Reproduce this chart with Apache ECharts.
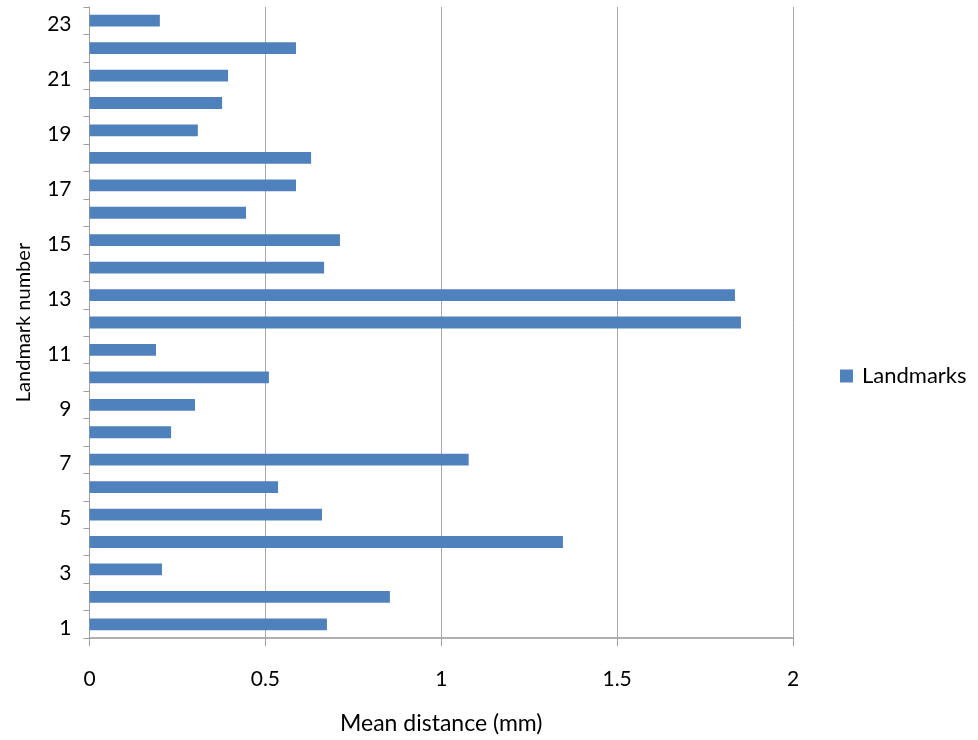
<!DOCTYPE html>
<html>
<head>
<meta charset="utf-8">
<script src="https://cdn.jsdelivr.net/npm/echarts@6/dist/echarts.min.js"></script>
<style>
html, body { margin: 0; padding: 0; background: #fff; }
#chart { width: 978px; height: 740px; }
</style>
</head>
<body>
<div id="chart"></div>
<script>
// Landmark ids, bottom to top
const landmarks = ['1','2','3','4','5','6','7','8','9','10','11','12','13','14','15','16','17','18','19','20','21','22','23'];
// Mean distance per landmark (mm)
const meanDistance = [0.675, 0.854, 0.206, 1.346, 0.661, 0.536, 1.078, 0.232, 0.300, 0.510, 0.189, 1.852, 1.835,
                      0.667, 0.712, 0.445, 0.587, 0.630, 0.308, 0.377, 0.394, 0.587, 0.200];
const xTicks = { min: 0, max: 2, interval: 0.5 };

const font = 'Lato, "Open Sans", sans-serif';
const chart = echarts.init(document.getElementById('chart'), null, { renderer: 'canvas' });
chart.setOption({
  animation: false,
  backgroundColor: '#ffffff',
  grid: { left: 89.5, right: 185, top: 7, bottom: 102, containLabel: false },
  legend: {
    data: ['Landmarks'],
    orient: 'vertical',
    left: 835, top: 360,
    itemWidth: 13, itemHeight: 13, itemGap: 8,
    icon: 'rect',
    textStyle: { fontFamily: font, fontSize: 22, color: '#000', padding: [0, 0, 0, 4] }
  },
  xAxis: {
    type: 'value',
    min: xTicks.min, max: xTicks.max, interval: xTicks.interval,
    name: 'Mean distance (mm)',
    nameLocation: 'middle',
    nameGap: 74,
    nameTextStyle: { fontFamily: font, fontSize: 23, color: '#000' },
    axisLine: { show: true, lineStyle: { color: '#b0b0b0', width: 2 } },
    axisTick: { show: true, length: 8, lineStyle: { color: '#a0a0a0' } },
    axisLabel: { margin: 31, fontFamily: font, fontSize: 21, color: '#000' },
    splitLine: { show: true, lineStyle: { color: '#a8a8a8', width: 1 } }
  },
  yAxis: {
    type: 'category',
    data: landmarks,
    name: 'Landmark number',
    nameLocation: 'middle',
    nameGap: 56,
    nameTextStyle: { fontFamily: font, fontSize: 20, color: '#000' },
    axisLine: { show: true, lineStyle: { color: '#a0a0a0', width: 1 } },
    axisTick: { show: true, interval: 0, length: 6, lineStyle: { color: '#a0a0a0' } },
    axisLabel: {
      interval: 1, margin: 18, fontFamily: font, fontSize: 21, color: '#000',
      verticalAlign: 'top', lineHeight: 8
    },
    splitLine: { show: false }
  },
  series: [{
    name: 'Landmarks',
    type: 'bar',
    data: meanDistance,
    barWidth: '43%',
    itemStyle: { color: '#4f81bd' }
  }]
});
</script>
</body>
</html>
